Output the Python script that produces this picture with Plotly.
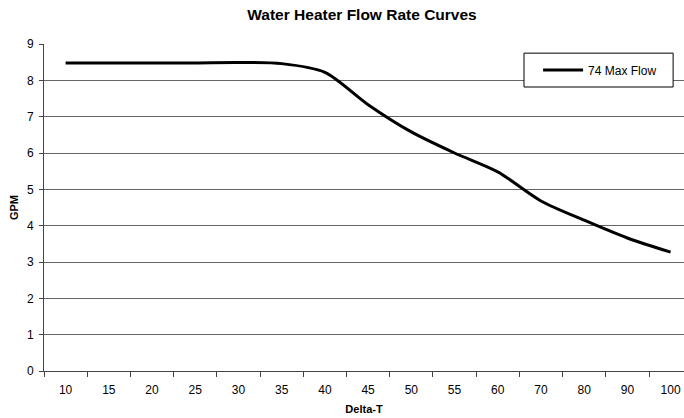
import plotly.graph_objects as go

categories = ["10", "15", "20", "25", "30", "35", "40", "45", "50", "55", "60", "70", "80", "90", "100"]
flow_74 = [8.48, 8.48, 8.48, 8.48, 8.49, 8.46, 8.22, 7.33, 6.58, 6.0, 5.48, 4.68, 4.15, 3.66, 3.27]
y_ticks = [0, 1, 2, 3, 4, 5, 6, 7, 8, 9]

FONT = "Liberation Sans, Arial, sans-serif"

fig = go.Figure()
fig.add_trace(go.Scatter(
    x=categories, y=flow_74, mode="lines", name="74 Max Flow",
    line=dict(color="black", width=3, shape="spline", smoothing=0.8),
))

# legend frame
fig.add_shape(type="rect", xref="paper", yref="paper",
              x0=0.75, x1=0.983, y0=0.8685, y1=0.972,
              line=dict(color="black", width=1), fillcolor="white", layer="above")

fig.update_layout(
    width=684, height=418,
    margin=dict(l=44, r=0, t=44, b=47),
    paper_bgcolor="white", plot_bgcolor="white",
    font=dict(family=FONT, color="black", size=12),
    title=dict(text="<b>Water Heater Flow Rate Curves</b>", x=362/684, xanchor="center",
               y=1 - 15/418, yanchor="middle", font=dict(size=15.5, family=FONT)),
    showlegend=True,
    legend=dict(x=0.772, y=0.9205, xanchor="left", yanchor="middle",
                bgcolor="rgba(0,0,0,0)", borderwidth=0,
                font=dict(size=12, family=FONT), itemwidth=40),
)
fig.update_xaxes(
    type="category", range=[-0.5, 14.31], automargin=False,
    showline=True, linecolor="#444", linewidth=1,
    ticks="outside", ticklen=5, tickcolor="#444", tickson="boundaries",
    ticklabelstandoff=8,
    showgrid=False, zeroline=False,
    tickfont=dict(size=12, family=FONT),
    title=dict(text="<b>Delta-T</b>", font=dict(size=11, family=FONT), standoff=8),
)
fig.update_yaxes(
    range=[0, 9], tickvals=y_ticks, automargin=False,
    showline=True, linecolor="#444", linewidth=1,
    ticks="outside", ticklen=4, tickcolor="#444",
    ticklabelstandoff=3,
    showgrid=True, gridcolor="#666", gridwidth=1, zeroline=False,
    tickfont=dict(size=12, family=FONT),
    title=dict(text="<b>GPM</b>", font=dict(size=11, family=FONT), standoff=6),
)

fig.write_html("out.html", config={"displayModeBar": False},
               post_script="document.body.style.margin='0';document.body.style.overflow='hidden';")
